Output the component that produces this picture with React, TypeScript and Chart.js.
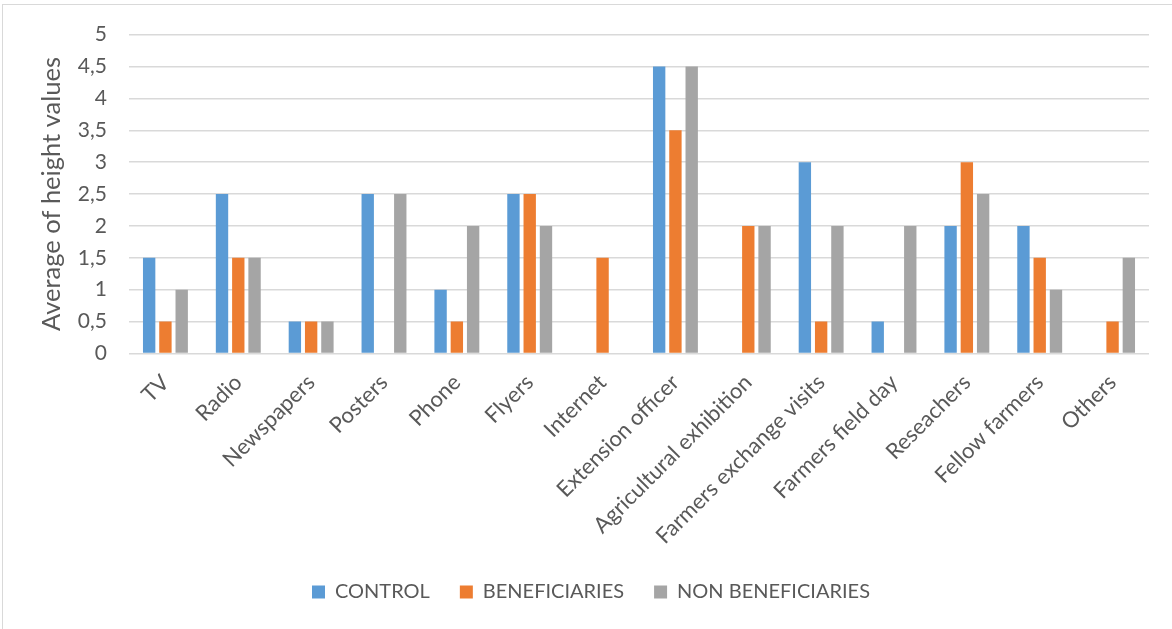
import React, { useEffect, useRef } from "react";
import { Chart, registerables } from "chart.js";

Chart.register(...registerables);

const categories = [
  "TV",
  "Radio",
  "Newspapers",
  "Posters",
  "Phone",
  "Flyers",
  "Internet",
  "Extension officer",
  "Agricultural exhibition",
  "Farmers exchange visits",
  "Farmers field day",
  "Reseachers",
  "Fellow farmers",
  "Others",
];

const controlValues = [1.5, 2.5, 0.5, 2.5, 1, 2.5, 0, 4.5, 0, 3, 0.5, 2, 2, 0];
const beneficiariesValues = [0.5, 1.5, 0.5, 0, 0.5, 2.5, 1.5, 3.5, 2, 0.5, 0, 3, 1.5, 0.5];
const nonBeneficiariesValues = [1, 1.5, 0.5, 2.5, 2, 2, 0, 4.5, 2, 2, 2, 2.5, 1, 1.5];

const yTickLabels = ["0", "0,5", "1", "1,5", "2", "2,5", "3", "3,5", "4", "4,5", "5"];

const seriesNames = ["CONTROL", "BENEFICIARIES", "NON BENEFICIARIES"];
const yAxisTitle = "Average of height values";

export default function App() {
  const canvasRef = useRef<HTMLCanvasElement | null>(null);

  useEffect(() => {
    if (!canvasRef.current) return;
    const font = "Lato";
    const textColor = "#595959";
    const chart = new Chart(canvasRef.current, {
      type: "bar",
      data: {
        labels: categories,
        datasets: [
          { label: seriesNames[0], data: controlValues, backgroundColor: "#5B9BD5" },
          { label: seriesNames[1], data: beneficiariesValues, backgroundColor: "#ED7D31" },
          { label: seriesNames[2], data: nonBeneficiariesValues, backgroundColor: "#A5A5A5" },
        ],
      },
      options: {
        animation: false,
        responsive: false,
        maintainAspectRatio: false,
        datasets: {
          bar: { categoryPercentage: 0.67, barPercentage: 0.76 },
        },
        layout: { padding: { left: 33, right: 23, top: 33.5, bottom: 17 } },
        plugins: {
          tooltip: { enabled: false },
          legend: {
            position: "bottom",
            labels: {
              color: textColor,
              font: { family: font, size: 20 },
              boxWidth: 13,
              boxHeight: 13,
              padding: 30,
            },
          },
        },
        scales: {
          x: {
            grid: { display: false },
            border: { display: false },
            ticks: {
              color: textColor,
              font: { family: font, size: 22 },
              minRotation: 45,
              maxRotation: 45,
              autoSkip: false,
              padding: 8,
            },
            afterFit: (scale: any) => {
              scale.height = 198.5;
            },
          },
          y: {
            min: 0,
            max: 5,
            grid: { color: "#D9D9D9", lineWidth: 1.5, drawTicks: false },
            border: { display: false },
            ticks: {
              stepSize: 0.5,
              color: textColor,
              font: { family: font, size: 21 },
              padding: 22,
              callback: (_v: any, i: number) => yTickLabels[i],
            },
            title: {
              display: true,
              text: yAxisTitle,
              color: textColor,
              font: { family: font, size: 25.5 },
              padding: { top: 3, bottom: 0 },
            },
            afterFit: (scale: any) => {
              scale.width = 96;
            },
          },
        },
      },
    });
    return () => chart.destroy();
  }, []);

  return (
    <div style={{ position: "absolute", left: 0, top: 0, width: 1172, height: 629, background: "#fff" }}>
      <div
        style={{
          position: "absolute",
          left: 2,
          top: 4,
          width: 1170,
          height: 625,
          borderLeft: "1px solid #D9D9D9",
          borderTop: "1px solid #D9D9D9",
          boxSizing: "border-box",
          pointerEvents: "none",
        }}
      />
      <canvas ref={canvasRef} width={1172} height={629} style={{ position: "absolute", left: 0, top: 0 }} />
    </div>
  );
}
